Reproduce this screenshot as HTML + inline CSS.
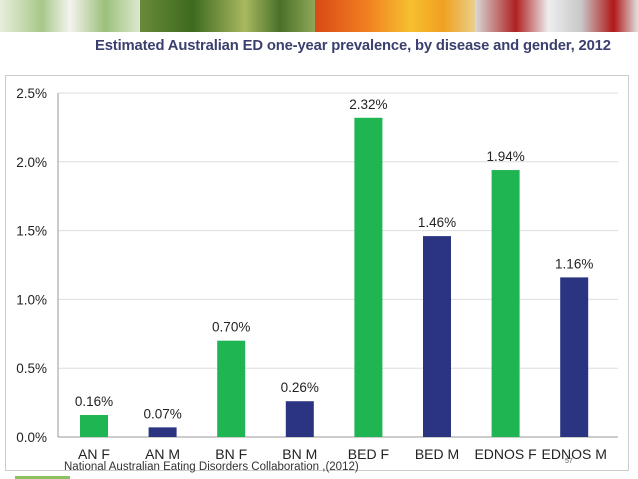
<!DOCTYPE html>
<html><head><meta charset="utf-8"><style>
body{margin:0;width:638px;height:479px;overflow:hidden;background:#fff;font-family:"Liberation Sans",sans-serif;position:relative}
.ban{position:absolute;top:0;height:32px}
</style></head><body>
<div style="position:absolute;left:0;top:0;width:638px;height:32px">
<div class="ban" style="left:0;width:140px;background:linear-gradient(90deg,#e8eedc,#a8c88a 30%,#f4f4ee 50%,#9cc07a 75%,#dde8d0)"></div>
<div class="ban" style="left:140px;width:175px;background:linear-gradient(90deg,#6a8a3a,#3d6a1e 30%,#a8b860 60%,#4a7028 80%,#8fa858)"></div>
<div class="ban" style="left:315px;width:160px;background:linear-gradient(90deg,#d84a18,#f07a20 30%,#f6c030 60%,#f0a020 80%,#e8d088)"></div>
<div class="ban" style="left:475px;width:163px;background:linear-gradient(90deg,#d8d8d8,#b02020 25%,#eeeeee 45%,#c8c8c8 65%,#b01818 85%,#e0e0e0)"></div>
</div>
<div style="position:absolute;left:95px;top:38px;font-size:14.8px;font-weight:bold;color:#3b3f6e;white-space:nowrap;letter-spacing:-0.15px">Estimated Australian ED one-year prevalence, by disease and gender, 2012</div>
<div style="position:absolute;left:5px;top:75px;width:624px;height:396px;border:1px solid #ccc;box-sizing:border-box"></div>
<svg id="c" width="638" height="479" style="position:absolute;left:0;top:0"></svg>
<div style="position:absolute;left:64px;top:461px;font-size:11.5px;color:#333">National Australian Eating Disorders Collaboration ,(2012)</div>
<div style="position:absolute;left:565px;top:458px;font-size:7px;color:#555">57</div>
<div style="position:absolute;left:15px;top:476px;width:55px;height:3px;background:#8dc060"></div>
<script>
const categories=["AN F","AN M","BN F","BN M","BED F","BED M","EDNOS F","EDNOS M"];
const values=[0.16,0.07,0.70,0.26,2.32,1.46,1.94,1.16];
const valueLabels=["0.16%","0.07%","0.70%","0.26%","2.32%","1.46%","1.94%","1.16%"];
const ticks=[0,0.5,1.0,1.5,2.0,2.5];
const tickLabels=["0.0%","0.5%","1.0%","1.5%","2.0%","2.5%"];
const svg=document.getElementById('c');const NS='http://www.w3.org/2000/svg';
const y0=437,y1=93,x0=58,step=68.6,first=94;
const y=v=>y0-(v/2.5)*(y0-y1);const x=i=>first+i*step;
function mk(t,a){const e=document.createElementNS(NS,t);for(const k in a)e.setAttribute(k,a[k]);svg.appendChild(e);return e;}
ticks.forEach((t,i)=>{
 const g=mk('line',{x1:x0,x2:618,y1:y(t),y2:y(t),stroke:i==0?'#999':'#ddd','stroke-width':1});
 
 const l=mk('text',{x:47,y:y(t)+5,'text-anchor':'end','font-size':13.5,fill:'#222'});l.textContent=tickLabels[i];
 
});
const ax=mk('line',{x1:x0,x2:x0,y1:y1,y2:y0,stroke:'#999'});

categories.forEach((c,i)=>{
 const r=mk('rect',{x:x(i)-14,y:y(values[i]),width:28,height:y0-y(values[i]),fill:i%2?'#2b3481':'#1fb553'});
 
 const v=mk('text',{x:x(i),y:y(values[i])-9,'text-anchor':'middle','font-size':13.5,fill:'#222'});v.textContent=valueLabels[i];
 
 const l=mk('text',{x:x(i),y:459,'text-anchor':'middle','font-size':14,fill:'#222'});l.textContent=c;
 
});
</script>
</body></html>
